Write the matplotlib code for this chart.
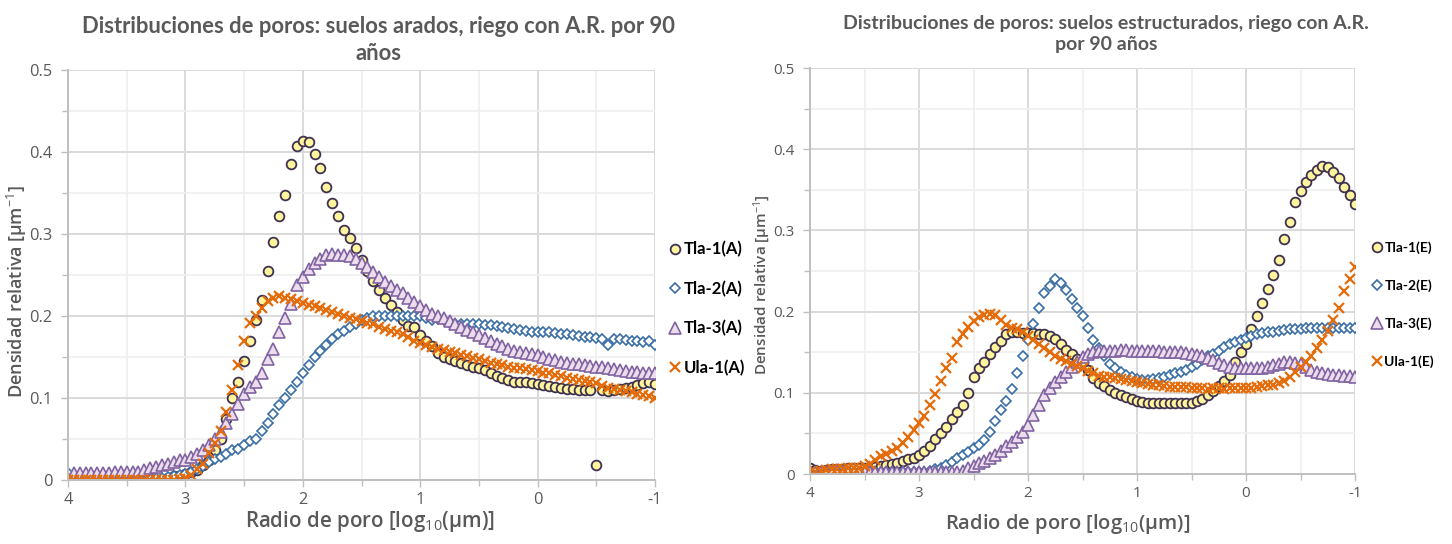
import numpy as np
import matplotlib
matplotlib.use("Agg")
import matplotlib.pyplot as plt
from matplotlib.ticker import MultipleLocator, FixedLocator, FixedFormatter

plt.rcParams['font.family'] = ['Lato', 'DejaVu Sans']
plt.rcParams['mathtext.fontset'] = 'custom'
plt.rcParams['mathtext.rm'] = 'Open Sans'
plt.rcParams['mathtext.it'] = 'Open Sans:italic'
plt.rcParams['mathtext.bf'] = 'Open Sans:bold'

# pore radius grid, log10(um), from coarse to fine
radio = np.round(np.arange(4.0, -1.001, -0.05), 2)

# ---- plowed soils (A) ----
tla1_a = [
    0, 0, 0, 0, 0, 0, 0, 0, 0, 0,
    0, 0, 0, 0, 0, 0, 0, 0.003, 0.005, 0.005,
    0.007, 0.010, 0.012, 0.018, 0.025, 0.037, 0.050, 0.075, 0.100, 0.120,
    0.145, 0.170, 0.195, 0.220, 0.255, 0.290, 0.322, 0.347, 0.385, 0.407,
    0.414, 0.412, 0.398, 0.380, 0.357, 0.338, 0.322, 0.305, 0.295, 0.283,
    0.268, 0.255, 0.243, 0.232, 0.222, 0.213, 0.205, 0.195, 0.188, 0.186,
    0.177, 0.170, 0.163, 0.155, 0.150, 0.147, 0.145, 0.143, 0.140, 0.138,
    0.136, 0.134, 0.130, 0.127, 0.125, 0.122, 0.120, 0.120, 0.119, 0.118,
    0.117, 0.116, 0.115, 0.113, 0.112, 0.111, 0.111, 0.110, 0.110, 0.110,
    0.018, 0.110, 0.109, 0.110, 0.111, 0.112, 0.114, 0.116, 0.118, 0.120,
    0.117]
tla2_a = [
    0.008, 0.002, 0.002, 0.002, 0.002, 0.002, 0.002, 0.002, 0.002, 0.002,
    0.002, 0.002, 0.002, 0.002, 0.002, 0.003, 0.003, 0.004, 0.005, 0.006,
    0.007, 0.010, 0.013, 0.017, 0.022, 0.026, 0.028, 0.032, 0.036, 0.038,
    0.043, 0.047, 0.050, 0.060, 0.070, 0.080, 0.092, 0.100, 0.110, 0.120,
    0.130, 0.140, 0.150, 0.157, 0.165, 0.172, 0.178, 0.182, 0.187, 0.190,
    0.195, 0.198, 0.200, 0.200, 0.200, 0.200, 0.200, 0.200, 0.200, 0.200,
    0.200, 0.198, 0.195, 0.196, 0.195, 0.192, 0.190, 0.190, 0.190, 0.190,
    0.190, 0.189, 0.189, 0.188, 0.186, 0.185, 0.184, 0.183, 0.182, 0.181,
    0.180, 0.180, 0.180, 0.179, 0.178, 0.178, 0.177, 0.176, 0.175, 0.174,
    0.173, 0.172, 0.165, 0.172, 0.172, 0.171, 0.170, 0.170, 0.168, 0.170,
    0.165]
tla3_a = [
    0.002, 0.009, 0.009, 0.009, 0.009, 0.009, 0.009, 0.009, 0.010, 0.010,
    0.010, 0.010, 0.010, 0.012, 0.015, 0.016, 0.018, 0.020, 0.022, 0.024,
    0.025, 0.028, 0.032, 0.037, 0.043, 0.050, 0.058, 0.070, 0.080, 0.093,
    0.105, 0.114, 0.120, 0.130, 0.148, 0.160, 0.180, 0.197, 0.215, 0.238,
    0.247, 0.257, 0.265, 0.270, 0.274, 0.275, 0.274, 0.274, 0.273, 0.270,
    0.265, 0.260, 0.254, 0.248, 0.242, 0.237, 0.232, 0.228, 0.222, 0.217,
    0.212, 0.207, 0.203, 0.200, 0.197, 0.194, 0.190, 0.187, 0.183, 0.180,
    0.177, 0.173, 0.170, 0.166, 0.163, 0.160, 0.157, 0.156, 0.155, 0.154,
    0.153, 0.150, 0.148, 0.146, 0.144, 0.143, 0.142, 0.141, 0.140, 0.139,
    0.138, 0.138, 0.137, 0.135, 0.134, 0.133, 0.132, 0.132, 0.131, 0.131,
    0.130]
ula1_a = [
    0, 0, 0, 0, 0, 0, 0, 0, 0, 0,
    0, 0, 0, 0, 0, 0, 0, 0, 0, 0.001,
    0.002, 0.006, 0.013, 0.020, 0.033, 0.045, 0.060, 0.083, 0.110, 0.140,
    0.170, 0.192, 0.200, 0.210, 0.218, 0.222, 0.224, 0.222, 0.221, 0.218,
    0.216, 0.214, 0.212, 0.210, 0.207, 0.205, 0.202, 0.200, 0.198, 0.196,
    0.194, 0.192, 0.190, 0.187, 0.184, 0.182, 0.180, 0.178, 0.175, 0.170,
    0.167, 0.165, 0.162, 0.160, 0.158, 0.156, 0.155, 0.153, 0.151, 0.149,
    0.147, 0.145, 0.143, 0.141, 0.140, 0.138, 0.137, 0.136, 0.135, 0.134,
    0.133, 0.131, 0.130, 0.128, 0.127, 0.125, 0.123, 0.122, 0.121, 0.120,
    0.118, 0.115, 0.112, 0.111, 0.110, 0.108, 0.107, 0.105, 0.104, 0.102,
    0.100]

# ---- structured soils (E) ----
tla1_e = [
    0.007, 0.005, 0.004, 0.005, 0.006, 0.006, 0.006, 0.007, 0.007, 0.007,
    0.007, 0.008, 0.009, 0.010, 0.011, 0.012, 0.013, 0.016, 0.018, 0.020,
    0.023, 0.028, 0.035, 0.043, 0.050, 0.058, 0.068, 0.076, 0.085, 0.100,
    0.120, 0.130, 0.138, 0.148, 0.157, 0.164, 0.172, 0.175, 0.175, 0.174,
    0.174, 0.174, 0.173, 0.172, 0.170, 0.166, 0.160, 0.153, 0.148, 0.142,
    0.138, 0.128, 0.118, 0.112, 0.108, 0.103, 0.100, 0.097, 0.095, 0.092,
    0.090, 0.089, 0.088, 0.088, 0.088, 0.088, 0.088, 0.088, 0.088, 0.088,
    0.088, 0.090, 0.092, 0.097, 0.102, 0.108, 0.115, 0.122, 0.138, 0.150,
    0.160, 0.178, 0.194, 0.210, 0.228, 0.245, 0.263, 0.289, 0.310, 0.335,
    0.348, 0.360, 0.368, 0.375, 0.379, 0.378, 0.372, 0.365, 0.353, 0.343,
    0.332]
tla2_e = [
    0.002, 0.002, 0.002, 0.002, 0.002, 0.002, 0.002, 0.002, 0.002, 0.002,
    0.002, 0.002, 0.002, 0.002, 0.002, 0.002, 0.002, 0.002, 0.002, 0.002,
    0.002, 0.003, 0.004, 0.006, 0.008, 0.011, 0.015, 0.020, 0.024, 0.027,
    0.032, 0.036, 0.042, 0.052, 0.065, 0.079, 0.090, 0.105, 0.125, 0.145,
    0.165, 0.185, 0.205, 0.223, 0.232, 0.240, 0.235, 0.226, 0.215, 0.205,
    0.195, 0.180, 0.165, 0.155, 0.145, 0.135, 0.130, 0.126, 0.122, 0.120,
    0.117, 0.116, 0.116, 0.117, 0.118, 0.119, 0.122, 0.124, 0.126, 0.128,
    0.132, 0.135, 0.140, 0.145, 0.148, 0.152, 0.157, 0.160, 0.162, 0.165,
    0.167, 0.170, 0.172, 0.174, 0.175, 0.175, 0.176, 0.177, 0.178, 0.178,
    0.179, 0.180, 0.180, 0.180, 0.180, 0.180, 0.180, 0.180, 0.180, 0.180,
    0.180]
tla3_e = [
    0.002, 0.002, 0.002, 0.002, 0.002, 0.002, 0.002, 0.002, 0.002, 0.002,
    0.002, 0.002, 0.002, 0.002, 0.002, 0.002, 0.002, 0.002, 0.002, 0.002,
    0.002, 0.002, 0.002, 0.002, 0.002, 0.002, 0.002, 0.002, 0.004, 0.007,
    0.010, 0.013, 0.016, 0.020, 0.024, 0.028, 0.034, 0.040, 0.046, 0.052,
    0.060, 0.073, 0.085, 0.097, 0.106, 0.113, 0.120, 0.126, 0.132, 0.138,
    0.144, 0.148, 0.150, 0.151, 0.152, 0.152, 0.152, 0.153, 0.153, 0.152,
    0.152, 0.152, 0.151, 0.151, 0.151, 0.150, 0.150, 0.150, 0.150, 0.149,
    0.148, 0.147, 0.145, 0.143, 0.140, 0.137, 0.134, 0.132, 0.131, 0.131,
    0.131, 0.131, 0.131, 0.131, 0.132, 0.134, 0.136, 0.138, 0.138, 0.137,
    0.135, 0.132, 0.128, 0.126, 0.124, 0.123, 0.122, 0.122, 0.121, 0.121,
    0.120]
ula1_e = [
    0.002, 0.003, 0.004, 0.005, 0.006, 0.006, 0.006, 0.007, 0.007, 0.008,
    0.010, 0.012, 0.017, 0.022, 0.025, 0.028, 0.032, 0.038, 0.046, 0.054,
    0.063, 0.072, 0.085, 0.098, 0.115, 0.130, 0.143, 0.162, 0.172, 0.181,
    0.188, 0.193, 0.196, 0.197, 0.196, 0.190, 0.183, 0.180, 0.178, 0.175,
    0.170, 0.165, 0.160, 0.155, 0.150, 0.145, 0.142, 0.139, 0.136, 0.133,
    0.130, 0.127, 0.124, 0.121, 0.120, 0.119, 0.118, 0.117, 0.116, 0.115,
    0.113, 0.112, 0.111, 0.110, 0.109, 0.108, 0.107, 0.107, 0.107, 0.107,
    0.106, 0.106, 0.106, 0.105, 0.106, 0.106, 0.105, 0.106, 0.106, 0.106,
    0.106, 0.106, 0.107, 0.108, 0.109, 0.110, 0.112, 0.115, 0.120, 0.126,
    0.132, 0.138, 0.145, 0.155, 0.165, 0.176, 0.190, 0.205, 0.225, 0.240,
    0.255]

labels_a = ['Tla-1(A)', 'Tla-2(A)', 'Tla-3(A)', 'Ula-1(A)']
labels_e = ['Tla-1(E)', 'Tla-2(E)', 'Tla-3(E)', 'Ula-1(E)']

GRAY = '#595959'
OPEN = ['Open Sans', 'DejaVu Sans']
STYLES = [
    dict(marker='o', mfc='#fff59d', mec='#3f3151', mew=1.3, ms=7.0),
    dict(marker='D', mfc='white', mec='#3a6ea5', mew=1.2, ms=5.5),
    dict(marker='^', mfc='#ecdcec', mec='#8064a2', mew=1.2, ms=8.0),
    dict(marker='x', color='#e46c0a', mew=1.6, ms=6.5),
]

fig = plt.figure(figsize=(14.52, 5.44), dpi=100)


def draw_panel(rect, series, labels, tick_size, xpad, leg_size, leg_space, legend_xy):
    ax = fig.add_axes(rect)
    for y, lab, st in zip(series, labels, STYLES):
        ax.plot(radio, y, linestyle='none', label=lab, **st)

    ax.set_xlim(4, -1)
    ax.set_ylim(0, 0.5)
    ax.xaxis.set_major_locator(FixedLocator([4, 3, 2, 1, 0, -1]))
    ax.xaxis.set_major_formatter(FixedFormatter(['4', '3', '2', '1', '0', '-1']))
    ax.xaxis.set_minor_locator(MultipleLocator(0.5))
    ax.yaxis.set_major_locator(FixedLocator([0, 0.1, 0.2, 0.3, 0.4, 0.5]))
    ax.yaxis.set_major_formatter(FixedFormatter(['0', '0.1', '0.2', '0.3', '0.4', '0.5']))
    ax.yaxis.set_minor_locator(MultipleLocator(0.05))

    ax.set_axisbelow(True)
    ax.grid(which='major', color='#d9d9d9', linewidth=1.4)
    ax.grid(which='minor', color='#efefef', linewidth=1.2)
    for side in ['top', 'right']:
        ax.spines[side].set_visible(False)
    for side in ['left', 'bottom']:
        ax.spines[side].set_color('#bfbfbf')
        ax.spines[side].set_linewidth(1.4)
    ax.tick_params(which='major', length=5, width=1, color='#bfbfbf',
                   labelsize=tick_size, labelcolor=GRAY)
    ax.tick_params(which='minor', length=4, width=1, color='#bfbfbf')
    ax.tick_params(axis='y', which='major', pad=6)
    ax.tick_params(axis='x', which='major', pad=xpad)
    for t in ax.get_xticklabels() + ax.get_yticklabels():
        t.set_family(OPEN)

    ax.legend(loc='center left', bbox_to_anchor=legend_xy,
              bbox_transform=fig.transFigure, frameon=False,
              prop=dict(weight='bold', size=leg_size),
              handlelength=0.6, handletextpad=0.2, labelspacing=leg_space,
              borderpad=0.3, borderaxespad=0)
    return ax


ax1 = draw_panel([68 / 1452, 64 / 544, 587 / 1452, 410 / 544],
                 [tla1_a, tla2_a, tla3_a, ula1_a], labels_a,
                 11.8, 3.5, 12, 1.39, (665 / 1452, 1 - 308.5 / 544))
ax2 = draw_panel([810 / 1452, 70 / 544, 545 / 1452, 406 / 544],
                 [tla1_e, tla2_e, tla3_e, ula1_e], labels_e,
                 11.0, 3.5, 10, 1.82, (1369 / 1452, 1 - 305 / 544))

# titles
fig.text(378 / 1452, 1 - 40 / 544,
         'Distribuciones de poros: suelos arados, riego con A.R. por 90\naños',
         ha='center', va='center', fontsize=15.8, fontweight='bold',
         color=GRAY, linespacing=1.3)
fig.text(1106 / 1452, 1 - 34 / 544,
         'Distribuciones de poros: suelos estructurados, riego con A.R.\npor 90 años',
         ha='center', va='center', fontsize=14, fontweight='bold',
         color=GRAY, linespacing=1.35)

# axis titles
fig.text(17 / 1452, 1 - 292 / 544, 'Densidad relativa [µm$^{-1}$]',
         rotation=90, ha='center', va='center', fontsize=13,
         fontweight='semibold', color=GRAY, family=OPEN)
fig.text(762 / 1452, 1 - 285 / 544, 'Densidad relativa [µm$^{-1}$]',
         rotation=90, ha='center', va='center', fontsize=11,
         fontweight='semibold', color=GRAY, family=OPEN)
fig.text(370 / 1452, 1 - 527 / 544, 'Radio de poro [log$_{10}$(µm)]',
         ha='center', va='baseline', fontsize=14.8, fontweight='semibold',
         color=GRAY, family=OPEN)
fig.text(1068 / 1452, 1 - 529 / 544, 'Radio de poro [log$_{10}$(µm)]',
         ha='center', va='baseline', fontsize=14.5, fontweight='semibold',
         color=GRAY, family=OPEN)

fig.savefig('out.png', dpi=100)
